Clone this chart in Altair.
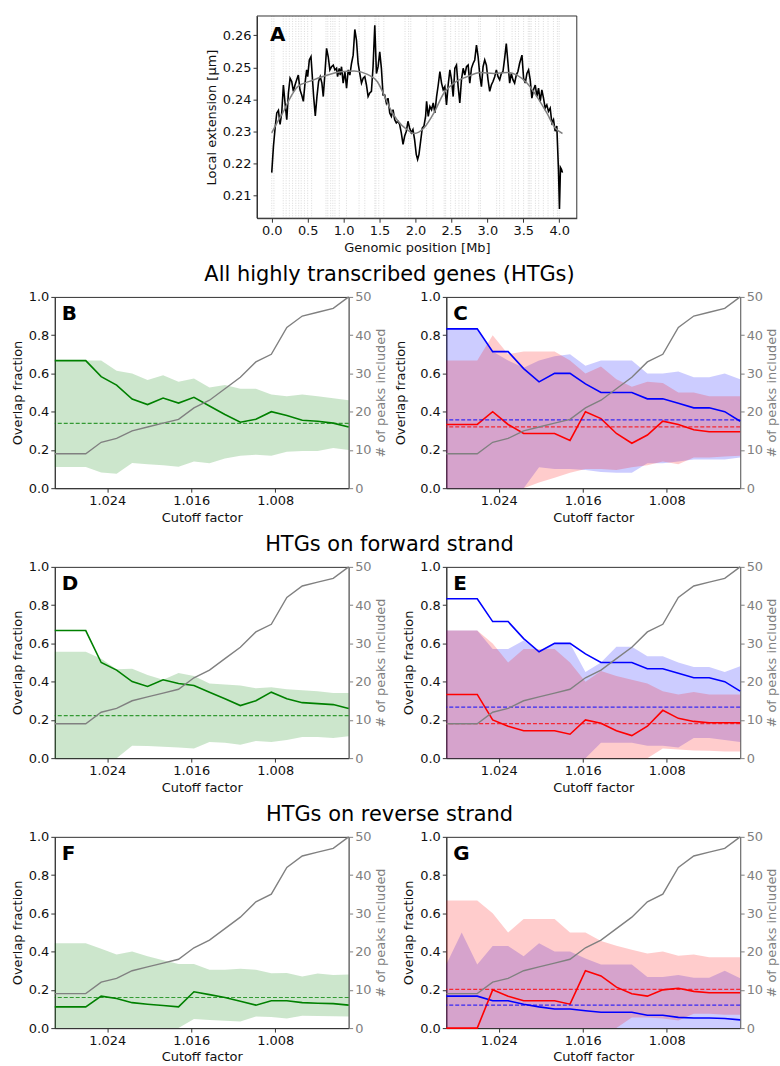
import altair as alt
import pandas as pd

FONT = "DejaVu Sans"

# ---------------- Panel A data ----------------
A_x = [0.000, 0.024, 0.047, 0.070, 0.093, 0.116, 0.139, 0.162, 0.185, 0.209, 0.232, 0.255, 0.278, 0.301,
       0.324, 0.347, 0.370, 0.393, 0.417, 0.440, 0.463, 0.486, 0.500, 0.523, 0.546, 0.560, 0.583, 0.606,
       0.629, 0.652, 0.675, 0.698, 0.717, 0.740, 0.763, 0.786, 0.809, 0.833, 0.856, 0.879, 0.902, 0.916,
       0.939, 0.953, 0.971, 0.994, 1.018, 1.041, 1.064, 1.087, 1.110, 1.133, 1.156, 1.179, 1.202, 1.225,
       1.249, 1.272, 1.295, 1.318, 1.341, 1.364, 1.387, 1.410, 1.434, 1.457, 1.480, 1.503, 1.526, 1.549,
       1.572, 1.595, 1.618, 1.642, 1.665, 1.688, 1.711, 1.734, 1.757, 1.780, 1.803, 1.827, 1.850, 1.873,
       1.896, 1.919, 1.942, 1.965, 1.988, 2.011, 2.030, 2.049, 2.072, 2.095, 2.118, 2.141, 2.155, 2.178,
       2.201, 2.224, 2.247, 2.270, 2.294, 2.317, 2.340, 2.363, 2.386, 2.409, 2.432, 2.455, 2.479, 2.502,
       2.525, 2.548, 2.571, 2.594, 2.617, 2.640, 2.664, 2.687, 2.710, 2.733, 2.756, 2.779, 2.802, 2.825,
       2.849, 2.872, 2.895, 2.918, 2.941, 2.964, 2.987, 3.010, 3.033, 3.056, 3.079, 3.103, 3.126, 3.149,
       3.172, 3.195, 3.218, 3.241, 3.264, 3.288, 3.311, 3.334, 3.357, 3.380, 3.403, 3.426, 3.449, 3.482,
       3.505, 3.528, 3.551, 3.574, 3.597, 3.620, 3.643, 3.667, 3.690, 3.713, 3.736, 3.759, 3.782, 3.805,
       3.828, 3.851, 3.875, 3.898, 3.921, 3.944, 3.967, 3.990, 4.004, 4.018, 4.032, 4.046]
A_y = [0.2172, 0.2255, 0.2311, 0.2358, 0.2366, 0.2322, 0.2358, 0.2445, 0.2389, 0.2337, 0.2420, 0.2466, 0.2456, 0.2425,
       0.2445, 0.2461, 0.2476, 0.2430, 0.2414, 0.2394, 0.2451, 0.2492, 0.2471, 0.2523, 0.2533, 0.2487, 0.2409, 0.2349,
       0.2409, 0.2456, 0.2471, 0.2451, 0.2409, 0.2481, 0.2559, 0.2533, 0.2492, 0.2502, 0.2507, 0.2492, 0.2497, 0.2471,
       0.2497, 0.2476, 0.2502, 0.2451, 0.2487, 0.2435, 0.2492, 0.2476, 0.2512, 0.2538, 0.2618, 0.2585, 0.2512, 0.2481,
       0.2451, 0.2466, 0.2471, 0.2445, 0.2409, 0.2420, 0.2425, 0.2502, 0.2631, 0.2481, 0.2502, 0.2548, 0.2497, 0.2414,
       0.2414, 0.2389, 0.2404, 0.2358, 0.2347, 0.2368, 0.2337, 0.2327, 0.2332, 0.2322, 0.2296, 0.2260, 0.2286, 0.2301,
       0.2332, 0.2311, 0.2296, 0.2306, 0.2275, 0.2229, 0.2213, 0.2229, 0.2270, 0.2311, 0.2317, 0.2347, 0.2394, 0.2347,
       0.2378, 0.2368, 0.2389, 0.2358, 0.2409, 0.2445, 0.2487, 0.2451, 0.2430, 0.2440, 0.2383, 0.2445, 0.2492, 0.2461,
       0.2409, 0.2497, 0.2507, 0.2440, 0.2389, 0.2461, 0.2497, 0.2476, 0.2502, 0.2507, 0.2451, 0.2497, 0.2512, 0.2523,
       0.2569, 0.2533, 0.2476, 0.2440, 0.2502, 0.2523, 0.2507, 0.2461, 0.2425, 0.2445, 0.2456, 0.2471, 0.2492, 0.2471,
       0.2461, 0.2481, 0.2487, 0.2528, 0.2574, 0.2512, 0.2451, 0.2481, 0.2461, 0.2451, 0.2476, 0.2487, 0.2512, 0.2538,
       0.2466, 0.2451, 0.2481, 0.2492, 0.2461, 0.2404, 0.2430, 0.2445, 0.2409, 0.2435, 0.2394, 0.2430, 0.2404, 0.2373,
       0.2383, 0.2363, 0.2373, 0.2327, 0.2337, 0.2301, 0.2317, 0.2182, 0.2059, 0.2188, 0.2182, 0.2172]
A_smooth_x = [0.0, 0.08, 0.176, 0.245, 0.361, 0.546, 0.777, 0.962, 1.147, 1.332, 1.47, 1.563, 1.633, 1.748, 1.887,
              1.98, 2.118, 2.257, 2.396, 2.535, 2.72, 2.905, 3.09, 3.274, 3.413, 3.551, 3.69, 3.828, 3.944, 4.046]
A_smooth_y = [0.2296, 0.2330, 0.2368, 0.2400, 0.2440, 0.2458, 0.2476, 0.2486, 0.2489, 0.2478, 0.2455, 0.2414, 0.2378,
              0.2335, 0.2305, 0.2294, 0.2311, 0.2358, 0.2420, 0.2451, 0.2471, 0.2484, 0.2481, 0.2484, 0.2476, 0.2451,
              0.2409, 0.2358, 0.2311, 0.2294]
gene_pos = [0.0, 0.03, 0.16, 0.2, 0.245, 0.29, 0.335, 0.375, 0.41, 0.455, 0.5, 0.555, 0.755, 0.78, 0.82, 0.85,
            0.88, 0.94, 1.04, 1.215, 1.295, 1.435, 1.45, 1.49, 1.56, 1.855, 1.905, 1.935, 2.155, 2.245, 2.4,
            2.42, 2.49, 2.555, 2.605, 2.65, 2.695, 2.74, 2.88, 2.905, 3.13, 3.17, 3.23, 3.345, 3.39, 3.435,
            3.505, 3.57, 3.59, 3.61, 3.67, 3.715, 3.78, 3.845, 3.92, 3.975, 4.0]
A_xticks = [0.0, 0.5, 1.0, 1.5, 2.0, 2.5, 3.0, 3.5, 4.0]
A_yticks = [0.21, 0.22, 0.23, 0.24, 0.25, 0.26]

# ---------------- Panels B-G data ----------------
cutoff = [1.02900, 1.02753, 1.02605, 1.02458, 1.02311, 1.02163, 1.02016, 1.01868, 1.01721, 1.01574,
          1.01426, 1.01279, 1.01132, 1.00984, 1.00837, 1.00689, 1.00542, 1.00395, 1.00247, 1.00100]
peaks = [9, 9, 9, 12, 13, 15, 16, 17, 18, 21, 23, 26, 29, 33, 35, 42, 45, 46, 47, 50]
cut_ticks = [1.024, 1.016, 1.008]
frac_ticks = [0.0, 0.2, 0.4, 0.6, 0.8, 1.0]
peak_ticks = [0, 10, 20, 30, 40, 50]
row_titles = ["All highly transcribed genes (HTGs)", "HTGs on forward strand", "HTGs on reverse strand"]

B_mean = [0.667, 0.667, 0.667, 0.583, 0.539, 0.466, 0.437, 0.471, 0.445, 0.475, 0.43, 0.385, 0.345, 0.36, 0.40, 0.38, 0.355, 0.35, 0.34, 0.32]
B_hi = [0.667, 0.667, 0.667, 0.667, 0.614, 0.60, 0.565, 0.59, 0.557, 0.574, 0.527, 0.54, 0.52, 0.52, 0.49, 0.48, 0.49, 0.48, 0.47, 0.46]
B_lo = [0.111, 0.111, 0.111, 0.082, 0.075, 0.132, 0.125, 0.12, 0.112, 0.14, 0.13, 0.155, 0.17, 0.175, 0.17, 0.19, 0.195, 0.195, 0.21, 0.20]
B_ref = 0.339

C_blue_mean = [0.833, 0.833, 0.833, 0.714, 0.714, 0.625, 0.556, 0.60, 0.60, 0.545, 0.50, 0.50, 0.50, 0.467, 0.467, 0.444, 0.42, 0.42, 0.40, 0.35]
C_blue_hi = [0.833, 0.833, 0.833, 0.714, 0.667, 0.63, 0.667, 0.69, 0.70, 0.64, 0.667, 0.667, 0.667, 0.60, 0.60, 0.61, 0.58, 0.58, 0.60, 0.57]
C_blue_lo = [0.0, 0.0, 0.0, 0.0, 0.0, 0.0, 0.11, 0.10, 0.10, 0.095, 0.085, 0.08, 0.08, 0.13, 0.13, 0.14, 0.15, 0.15, 0.15, 0.16]
C_blue_ref = 0.357
C_red_mean = [0.333, 0.333, 0.333, 0.40, 0.333, 0.286, 0.286, 0.286, 0.25, 0.40, 0.364, 0.286, 0.235, 0.278, 0.35, 0.333, 0.305, 0.295, 0.295, 0.295]
C_red_hi = [0.667, 0.667, 0.667, 0.80, 0.70, 0.714, 0.714, 0.714, 0.667, 0.60, 0.636, 0.57, 0.53, 0.556, 0.55, 0.50, 0.50, 0.48, 0.48, 0.48]
C_red_lo = [0.0, 0.0, 0.0, 0.0, 0.0, 0.0, 0.03, 0.055, 0.08, 0.10, 0.10, 0.095, 0.11, 0.12, 0.14, 0.125, 0.16, 0.16, 0.165, 0.17]
C_red_ref = 0.32

D_mean = [0.667, 0.667, 0.667, 0.50, 0.46, 0.40, 0.375, 0.41, 0.39, 0.38, 0.345, 0.31, 0.275, 0.30, 0.345, 0.31, 0.29, 0.285, 0.28, 0.26]
D_hi = [0.556, 0.556, 0.556, 0.52, 0.465, 0.467, 0.435, 0.41, 0.445, 0.43, 0.39, 0.385, 0.38, 0.365, 0.37, 0.36, 0.355, 0.35, 0.34, 0.34]
D_lo = [0.0, 0.0, 0.0, 0.0, 0.0, 0.065, 0.063, 0.06, 0.055, 0.05, 0.085, 0.08, 0.07, 0.09, 0.085, 0.095, 0.11, 0.11, 0.105, 0.115]
D_ref = 0.222

E_blue_mean = [0.833, 0.833, 0.833, 0.714, 0.714, 0.625, 0.556, 0.60, 0.60, 0.545, 0.50, 0.50, 0.50, 0.467, 0.467, 0.444, 0.42, 0.42, 0.40, 0.35]
E_blue_hi = [0.667, 0.667, 0.667, 0.571, 0.571, 0.615, 0.556, 0.60, 0.60, 0.45, 0.50, 0.583, 0.583, 0.533, 0.533, 0.50, 0.476, 0.476, 0.45, 0.48]
E_blue_lo = [0.0, 0.0, 0.0, 0.0, 0.0, 0.0, 0.0, 0.0, 0.0, 0.0, 0.08, 0.08, 0.08, 0.065, 0.065, 0.055, 0.105, 0.105, 0.095, 0.085]
E_blue_ref = 0.267
E_red_mean = [0.333, 0.333, 0.333, 0.20, 0.167, 0.143, 0.143, 0.143, 0.125, 0.20, 0.182, 0.143, 0.118, 0.167, 0.25, 0.208, 0.192, 0.185, 0.185, 0.185]
E_red_hi = [0.667, 0.667, 0.667, 0.60, 0.50, 0.571, 0.571, 0.571, 0.50, 0.40, 0.455, 0.43, 0.41, 0.39, 0.35, 0.333, 0.346, 0.333, 0.333, 0.333]
E_red_lo = [0.0, 0.0, 0.0, 0.0, 0.0, 0.0, 0.0, 0.0, 0.0, 0.0, 0.0, 0.0, 0.0, 0.0, 0.05, 0.045, 0.04, 0.038, 0.035, 0.035]
E_red_ref = 0.18

F_mean = [0.111, 0.111, 0.111, 0.167, 0.155, 0.133, 0.125, 0.118, 0.111, 0.19, 0.175, 0.16, 0.14, 0.12, 0.143, 0.143, 0.133, 0.13, 0.128, 0.12]
F_hi = [0.444, 0.444, 0.444, 0.415, 0.385, 0.40, 0.375, 0.355, 0.335, 0.335, 0.305, 0.305, 0.31, 0.305, 0.287, 0.288, 0.27, 0.285, 0.278, 0.28]
F_lo = [0.0, 0.0, 0.0, 0.0, 0.0, 0.0, 0.0, 0.0, 0.0, 0.048, 0.042, 0.038, 0.035, 0.06, 0.058, 0.05, 0.065, 0.063, 0.062, 0.06]
F_ref = 0.16

G_blue_mean = [0.167, 0.167, 0.167, 0.143, 0.143, 0.125, 0.111, 0.10, 0.10, 0.091, 0.083, 0.083, 0.083, 0.067, 0.067, 0.056, 0.053, 0.053, 0.05, 0.043]
G_blue_hi = [0.333, 0.50, 0.333, 0.429, 0.429, 0.375, 0.444, 0.40, 0.40, 0.364, 0.333, 0.333, 0.333, 0.267, 0.267, 0.278, 0.263, 0.263, 0.30, 0.26]
G_blue_lo = [0.0] * 20
G_blue_ref = 0.12
G_red_mean = [0.0, 0.0, 0.0, 0.20, 0.167, 0.143, 0.143, 0.143, 0.125, 0.30, 0.273, 0.214, 0.18, 0.167, 0.20, 0.208, 0.192, 0.185, 0.185, 0.185]
G_red_hi = [0.667, 0.667, 0.667, 0.60, 0.50, 0.571, 0.571, 0.571, 0.50, 0.50, 0.455, 0.43, 0.41, 0.39, 0.40, 0.378, 0.385, 0.37, 0.37, 0.37]
G_red_lo = [0.0, 0.0, 0.0, 0.0, 0.0, 0.0, 0.0, 0.0, 0.0, 0.0, 0.0, 0.0, 0.055, 0.055, 0.05, 0.04, 0.075, 0.075, 0.07, 0.07]
G_red_ref = 0.202

# ---------------- helpers ----------------
W, H = 295, 192
GREEN, BLUE, RED = "#008000", "#0000ff", "#ff0000"


def x_enc():
    return alt.X(
        "cutoff:Q",
        scale=alt.Scale(domain=[min(cutoff), max(cutoff)], reverse=True, nice=False, zero=False),
        axis=alt.Axis(title="Cutoff factor", values=cut_ticks, format=".3f",
                      labelFlush=False, labelOverlap=False),
    )


def panel(letter, series, left_title_pad=4, row_title=None):
    yl = alt.Axis(title="Overlap fraction", orient="left", values=frac_ticks, format=".1f",
                  titlePadding=left_title_pad, labelFlush=False, labelOverlap=False)
    ys = alt.Scale(domain=[0, 1], nice=False, zero=False)
    yr = alt.Axis(title="# of peaks included", orient="right", values=peak_ticks, format="d",
                  domainColor="gray", tickColor="gray", labelColor="gray", titleColor="gray",
                  titleAngle=270, titleBaseline="top", titlePadding=3,
                  labelFlush=False, labelOverlap=False)
    bands, lines, rules = [], [], []
    for color, mean, lo, hi, ref in series:
        df = pd.DataFrame({"cutoff": cutoff, "mean": mean, "lo": lo, "hi": hi})
        bands.append(alt.Chart(df).mark_area(color=color, opacity=0.2).encode(
            x=x_enc(), y=alt.Y("lo:Q", scale=ys, axis=yl), y2="hi:Q"))
        lines.append(alt.Chart(df).mark_line(color=color, strokeWidth=1.6).encode(
            x=x_enc(), y=alt.Y("mean:Q", scale=ys, axis=yl)))
        rules.append(alt.Chart(pd.DataFrame({"ref": [ref]})).mark_rule(
            color=color, strokeDash=[4, 2], strokeWidth=1.2, opacity=0.75).encode(
            y=alt.Y("ref:Q", scale=ys, axis=yl)))
    texts = [alt.Chart(pd.DataFrame({"t": [letter]})).mark_text(
        font=FONT, fontSize=20, fontWeight="bold", align="left", baseline="alphabetic",
        color="black").encode(x=alt.value(7), y=alt.value(23), text="t:N")]
    if row_title:
        texts.append(alt.Chart(pd.DataFrame({"t": [row_title]})).mark_text(
            font=FONT, fontSize=21, align="center", baseline="alphabetic",
            color="black").encode(x=alt.value(336), y=alt.value(-16), text="t:N"))
    left = alt.layer(*bands, *lines, *rules, *texts)
    right = alt.Chart(pd.DataFrame({"cutoff": cutoff, "peaks": peaks})).mark_line(
        color="gray", strokeWidth=1.4).encode(
        x=x_enc(),
        y=alt.Y("peaks:Q", scale=alt.Scale(domain=[0, 50], nice=False, zero=False), axis=yr))
    return alt.layer(left, right).resolve_scale(y="independent").properties(width=W, height=H)


# ---------------- Panel A (drawn inside a column-wide cell, shifted by scale range) ----------------
AX0, AX1, AH = 203, 524, 203
xA = alt.Scale(domain=[-0.205, 4.245], range=[AX0, AX1], nice=False, zero=False)
yA = alt.Scale(domain=[0.2030, 0.2660], nice=False, zero=False)
axAx = alt.Axis(title="Genomic position [Mb]", values=A_xticks, format=".1f",
                labelFlush=False, labelOverlap=False)
axAy = alt.Axis(title="Local extension [μm]", values=A_yticks, format=".2f", offset=-AX0,
                labelFlush=False, labelOverlap=False)

genes = alt.Chart(pd.DataFrame({"pos": gene_pos})).mark_rule(
    color="#d0d0d0", strokeDash=[1, 1.5], strokeWidth=0.8).encode(
    x=alt.X("pos:Q", scale=xA, axis=axAx))
black = alt.Chart(pd.DataFrame({"x": A_x, "y": A_y})).mark_line(
    color="black", strokeWidth=1.6).encode(
    x=alt.X("x:Q", scale=xA, axis=axAx), y=alt.Y("y:Q", scale=yA, axis=axAy))
smooth = alt.Chart(pd.DataFrame({"x": A_smooth_x, "y": A_smooth_y})).mark_line(
    color="gray", strokeWidth=1.5, interpolate="monotone").encode(
    x=alt.X("x:Q", scale=xA, axis=axAx), y=alt.Y("y:Q", scale=yA, axis=axAy))
frameA = alt.Chart(pd.DataFrame({"a": [0]})).mark_rect(
    fillOpacity=0, stroke="#333333", strokeWidth=1).encode(
    x=alt.value(AX0), x2=alt.value(AX1), y=alt.value(0), y2=alt.value(AH))
labA = alt.Chart(pd.DataFrame({"t": ["A"]})).mark_text(
    font=FONT, fontSize=20, fontWeight="bold", align="left", baseline="alphabetic",
    color="black").encode(x=alt.value(AX0 + 13), y=alt.value(25), text="t:N")
chartA = alt.layer(genes, black, smooth, frameA, labA).properties(
    width=W, height=AH, view=alt.ViewBackground(stroke="transparent", strokeWidth=0))

spacer = alt.Chart(pd.DataFrame({"a": [0]})).mark_point(opacity=0, size=1).encode(
    x=alt.value(5), y=alt.value(0.5)).properties(
    width=W, height=1, view=alt.ViewBackground(stroke="transparent", strokeWidth=0))

# ---------------- panels ----------------
B = panel("B", [(GREEN, B_mean, B_lo, B_hi, B_ref)], row_title=row_titles[0])
C = panel("C", [(BLUE, C_blue_mean, C_blue_lo, C_blue_hi, C_blue_ref),
                (RED, C_red_mean, C_red_lo, C_red_hi, C_red_ref)], left_title_pad=12)
D = panel("D", [(GREEN, D_mean, D_lo, D_hi, D_ref)], row_title=row_titles[1])
E = panel("E", [(BLUE, E_blue_mean, E_blue_lo, E_blue_hi, E_blue_ref),
                (RED, E_red_mean, E_red_lo, E_red_hi, E_red_ref)])
F = panel("F", [(GREEN, F_mean, F_lo, F_hi, F_ref)], row_title=row_titles[2])
G = panel("G", [(BLUE, G_blue_mean, G_blue_lo, G_blue_hi, G_blue_ref),
                (RED, G_red_mean, G_red_lo, G_red_hi, G_red_ref)])

chart = alt.concat(
    chartA, spacer, B, C, D, E, F, G,
    columns=2, spacing={"row": 79, "column": 98}, bounds="flush", align="each"
).properties(
    padding={"left": 10, "top": 13, "right": 0, "bottom": 0}
).configure_view(
    stroke="#333333", strokeWidth=1
).configure_axis(
    labelFont=FONT, titleFont=FONT, labelFontSize=13, titleFontSize=13,
    titleFontWeight="normal", labelColor="#111111", titleColor="#111111",
    tickColor="#333333", domainColor="#333333", tickSize=4, labelPadding=2,
    titlePadding=4, grid=False, domainWidth=1, tickWidth=1
)

chart.save("out.html", embed_options={"renderer": "svg", "actions": False})
